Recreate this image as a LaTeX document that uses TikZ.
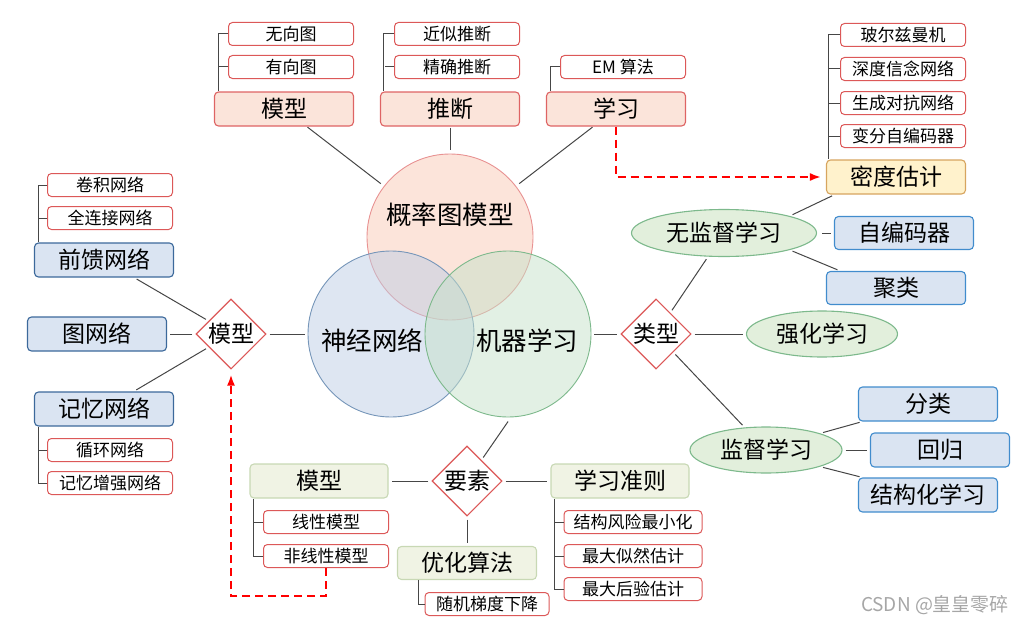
\documentclass[tikz,border=0pt]{standalone}
\usepackage{fontspec}
\setmainfont{Noto Sans CJK SC}
\usetikzlibrary{shapes.geometric,arrows.meta}
\definecolor{leafred}{RGB}{220,88,88}
\definecolor{topfill}{RGB}{251,228,218}
\definecolor{topdraw}{RGB}{222,100,100}
\definecolor{nnfill}{RGB}{218,228,242}
\definecolor{nndraw}{RGB}{60,105,155}
\definecolor{nndrawb}{RGB}{65,140,205}
\definecolor{mlfill}{RGB}{240,243,228}
\definecolor{mldraw}{RGB}{200,216,180}
\definecolor{denfill}{RGB}{255,242,204}
\definecolor{dendraw}{RGB}{215,165,95}
\definecolor{elfill}{RGB}{226,239,220}
\definecolor{eldraw}{RGB}{125,185,140}
\definecolor{linegray}{RGB}{70,70,70}
\definecolor{pgmc}{RGB}{249,201,181}
\definecolor{nnc}{RGB}{189,205,229}
\definecolor{mlc}{RGB}{197,225,201}

\begin{document}
\begin{tikzpicture}
            [x=1pt, y=-1pt, every node/.style={inner sep=0pt},
             leaf/.style={rectangle, rounded corners=4pt, draw=leafred, fill=white, line width=1pt, minimum width=125pt, minimum height=23pt, font=\fontsize{17}{17}\selectfont},
             bigbox/.style={rectangle, rounded corners=4pt, line width=1.1pt, minimum width=139pt, minimum height=34pt, font=\fontsize{23}{23}\selectfont},
             topbox/.style={bigbox, draw=topdraw, fill=topfill},
             nnbox/.style={bigbox, draw=nndraw, fill=nnfill},
             nnboxb/.style={bigbox, draw=nndrawb, fill=nnfill},
             mlbox/.style={bigbox, draw=mldraw, fill=mlfill},
             denbox/.style={bigbox, draw=dendraw, fill=denfill},
             oval/.style={ellipse, draw=eldraw, fill=elfill, line width=1.1pt, font=\fontsize{23}{23}\selectfont},
             fork/.style={diamond, aspect=1, draw=leafred, fill=white, line width=1.1pt, minimum size=70pt, font=\fontsize{23}{23}\selectfont},
             area/.style={circle, minimum size=166pt, line width=0.9pt, fill opacity=0.5},
             areatext/.style={font=\fontsize{25.5}{25.5}\selectfont},
             link/.style={draw=linegray, line width=1pt, shorten <=3pt, shorten >=3pt},
             bracket/.style={draw=linegray, line width=1pt},
             hint/.style={draw=red, line width=2pt, dash pattern=on 8pt off 5pt, shorten >=5pt, -{Latex[length=11pt,width=8pt]}}]
                \useasboundingbox (0,0) rectangle (1025,626);
                % three areas
                \node (pgm) [area, fill=pgmc, draw=topdraw!70] at (450, 237) {};
                \node (nn) [area, fill=nnc, draw=nndraw!70] at (391, 334) {};
                \node (ml) [area, fill=mlc, draw=eldraw] at (508, 334) {};
                \node (pgmt) [areatext] at (450, 215) {概率图模型};
                \node (nnt) [areatext] at (372, 341) {神经网络};
                \node (mlt) [areatext] at (527, 341) {机器学习};
                % probabilistic graphical model
                \node (m1) [topbox] at (284, 109) {模型};
                \node (m1a) [leaf] at (291, 34) {无向图};
                \node (m1b) [leaf] at (291, 67) {有向图};
                \node (m2) [topbox] at (450, 109) {推断};
                \node (m2a) [leaf] at (457, 34) {近似推断};
                \node (m2b) [leaf] at (457, 67) {精确推断};
                \node (m3) [topbox] at (616, 109) {学习};
                \node (m3a) [leaf] at (623, 67) {EM 算法};
                \draw [bracket] (m1a.west) -| ([xshift=5pt]m1.north west);
                \draw [bracket] (m1b.west) -- ++(-9, 0);
                \draw [bracket] (m2a.west) -| ([xshift=4pt]m2.north west);
                \draw [bracket] (m2b.west) -- ++(-9, 0);
                \draw [bracket] (m3a.west) -| ([xshift=5pt]m3.north west);
                \draw [link, shorten <=1pt, shorten >=4pt] (m1) to (pgm);
                \draw [link, shorten <=1pt, shorten >=4pt] (m2) to (pgm);
                \draw [link, shorten <=1pt, shorten >=4pt] (m3) to (pgm);
                % neural networks
                \node (d1) [fork] at (231, 334) {模型};
                \node (f1) [nnbox] at (104, 260) {前馈网络};
                \node (f1a) [leaf] at (110, 185) {卷积网络};
                \node (f1b) [leaf] at (110, 218) {全连接网络};
                \node (f2) [nnbox] at (97, 334) {图网络};
                \node (f3) [nnbox] at (104, 409) {记忆网络};
                \node (f3a) [leaf] at (110, 450) {循环网络};
                \node (f3b) [leaf] at (110, 483) {记忆增强网络};
                \draw [bracket] (f1a.west) -| ([xshift=5pt]f1.north west);
                \draw [bracket] (f1b.west) -- ++(-9, 0);
                \draw [bracket] (f3b.west) -| ([xshift=5pt]f3.south west);
                \draw [bracket] (f3a.west) -- ++(-9, 0);
                \draw [link] (d1) to (f1);
                \draw [link] (d1) to (f2);
                \draw [link] (d1) to (f3);
                \draw [link] (d1) to (nn);
                % machine learning
                \node (d2) [fork] at (656, 334) {类型};
                \node (e1) [oval, minimum width=185pt, minimum height=47pt] at (724, 233) {无监督学习};
                \node (e2) [oval, minimum width=151pt, minimum height=46pt] at (822, 334) {强化学习};
                \node (e3) [oval, minimum width=152pt, minimum height=46pt] at (766, 450) {监督学习};
                \node (g1) [denbox] at (896, 177) {密度估计};
                \node (g1a) [leaf] at (903, 35) {玻尔兹曼机};
                \node (g1b) [leaf] at (903, 69) {深度信念网络};
                \node (g1c) [leaf] at (903, 103) {生成对抗网络};
                \node (g1d) [leaf] at (903, 136) {变分自编码器};
                \node (g2) [nnboxb, minimum height=33pt] at (904, 233) {自编码器};
                \node (g3) [nnboxb, minimum height=33pt] at (896, 288) {聚类};
                \node (h1) [nnboxb] at (928, 404) {分类};
                \node (h2) [nnboxb] at (940, 450) {回归};
                \node (h3) [nnboxb] at (928, 495) {结构化学习};
                \draw [bracket] (g1a.west) -| ([xshift=3pt]g1.north west);
                \draw [bracket] (g1b.west) -- ++(-11, 0);
                \draw [bracket] (g1c.west) -- ++(-11, 0);
                \draw [bracket] (g1d.west) -- ++(-11, 0);
                \draw [link] (ml) to (d2);
                \draw [link] (d2) to (e1);
                \draw [link] (d2) to (e2);
                \draw [link] (d2) to (e3);
                \draw [link] (e1.north east) to (g1.196);
                \draw [link, shorten <=5pt] (e1) to (g2);
                \draw [link] (e1.south east) to (g3.163);
                \draw [link] (e3.north east) to (h1.195);
                \draw [link] (e3) to (h2);
                \draw [link] (e3.south east) to (h3.165);
                % elements
                \node (d3) [fork] at (467, 481) {要素};
                \node (k1) [mlbox, minimum width=138pt] at (319, 481) {模型};
                \node (k1a) [leaf] at (326, 522) {线性模型};
                \node (k1b) [leaf] at (326, 556) {非线性模型};
                \node (k2) [mlbox, minimum width=138pt] at (620, 481) {学习准则};
                \node (k2a) [leaf, minimum width=138pt] at (633, 522) {结构风险最小化};
                \node (k2b) [leaf, minimum width=138pt] at (633, 556) {最大似然估计};
                \node (k2c) [leaf, minimum width=138pt] at (633, 589) {最大后验估计};
                \node (k3) [mlbox, minimum height=33pt] at (467, 563) {优化算法};
                \node (k3a) [leaf, minimum width=124pt] at (487, 604) {随机梯度下降};
                \draw [bracket] (k1b.west) -| ([xshift=4pt]k1.south west);
                \draw [bracket] (k1a.west) -- ++(-10, 0);
                \draw [bracket] (k2c.west) -| ([xshift=4pt]k2.south west);
                \draw [bracket] (k2a.west) -- ++(-9, 0);
                \draw [bracket] (k2b.west) -- ++(-9, 0);
                \draw [bracket] (k3a.west) -| ([xshift=22pt]k3.south west);
                \draw [link, shorten >=5pt] (d3) to (ml.272);
                \draw [link] (d3) to (k1);
                \draw [link] (d3) to (k2);
                \draw [link] (d3) to (k3);
                % hints
                \draw [hint] (m3.south) |- (g1.west);
                \draw [hint] (k1b.south) -- ++(0, 28) -| (d1.south);
                \node (wm) [text=gray!70, font=\fontsize{19}{19}\selectfont] at (935, 605) {CSDN @皇皇零碎};
            \end{tikzpicture}
\end{document}
